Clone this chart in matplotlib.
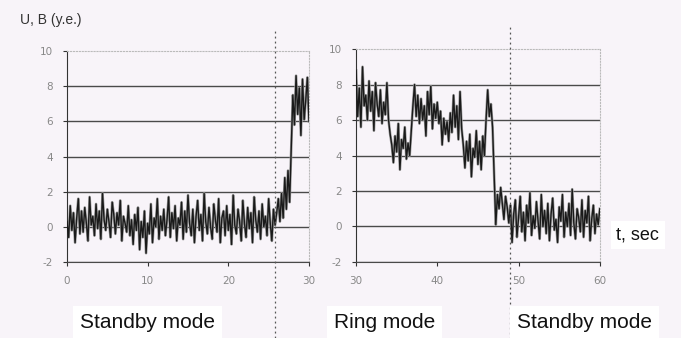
import matplotlib
matplotlib.use("Agg")
import matplotlib.pyplot as plt
import numpy as np

plt.rcParams["axes.unicode_minus"] = False

# signal values sampled every 0.2 s
t_left = np.round(np.arange(0, 30.01, 0.2), 1)
u_left = [
    0.3, -0.6, 1.2, -0.2, 0.8, -0.9, 0.5, 1.6, -0.4, 0.9,
    -0.3, 1.1, 0.2, -0.8, 1.7, 0.1, 0.6, -0.5, 1.3, -0.1,
    0.9, -0.7, 1.9, 0.4, -0.2, 1.0, 0.3, -0.6, 1.4, 0.7,
    -0.4, 0.8, 0.1, 1.5, -0.8, 0.6, 0.2, -0.3, 1.2, -0.5,
    0.4, -1.0, 0.7, -0.2, 1.1, -1.3, 0.3, -0.6, 0.9, -1.5,
    0.2, -0.4, 1.3, -0.9, 0.5, 0.0, 1.6, -0.7, 0.6, -0.2,
    1.0, -0.5, 0.4, 1.7, -0.6, 0.8, -0.1, 1.2, -0.8, 0.5,
    0.1, 1.4, -0.7, 0.9, -0.3, 1.8, 0.2, -0.5, 1.0, -0.9,
    0.6, 1.5, -0.2, 0.7, -0.8, 1.9, 0.3, -0.4, 1.1, 0.0,
    -0.7, 1.3, 0.4, -0.3, 1.6, -0.9, 0.5, 0.9, -0.5, 1.2,
    -0.2, 0.7, -1.0, 1.8, 0.1, -0.4, 1.0, 0.3, -0.8, 1.5,
    0.2, -0.6, 1.1, -0.1, 0.8, -0.9, 1.7, 0.4, -0.3, 0.9,
    -0.7, 1.3, 0.0, 0.6, -0.5, 1.6, 0.2, -0.8, 1.0, 0.1,
    0.8, 1.6, 0.3, 1.9, 0.5, 2.8, 1.0, 3.2, 1.4, 4.5,
    7.5, 5.8, 8.6, 6.4, 7.9, 5.2, 8.4, 6.1, 7.2, 8.5,
    6.0,
]

t_right = np.round(np.arange(30, 60.01, 0.2), 1)
u_right = [
    8.8, 6.2, 7.8, 5.6, 9.0, 6.8, 7.4, 6.0, 8.2, 6.5,
    7.6, 5.4, 8.1, 6.9, 6.2, 7.7, 5.8, 7.0, 6.3, 8.1,
    6.0, 5.2, 4.6, 3.6, 5.1, 4.2, 5.8, 3.2, 4.9, 4.4,
    5.6, 3.8, 4.7, 4.0, 5.4, 6.8, 8.0, 6.2, 7.4, 5.8,
    7.2, 6.0, 6.8, 5.1, 7.6, 6.3, 7.9, 5.5, 6.9, 6.1,
    7.0, 5.8, 6.5, 4.6, 6.1, 5.2, 5.9, 4.8, 6.4, 5.3,
    7.4, 5.6, 6.8, 4.9, 7.6, 5.5, 4.6, 3.3, 4.8, 3.7,
    5.2, 2.8, 4.4, 3.9, 5.4, 3.5, 4.8, 3.2, 5.1, 4.0,
    6.0, 7.7, 6.2, 6.9, 5.6, 2.8, 0.1, 1.8, 1.0, 2.2,
    1.3, 0.4, 1.7, 1.1, 0.2, 1.2, -0.9, 0.7, 1.5, -0.6,
    0.5, 1.7, -0.3, 0.8, -0.8, 1.2, 0.2, 1.9, -0.5, 0.6,
    -0.1, 1.4, 0.3, -0.7, 1.8, 0.0, 0.9, -0.4, 1.3, -0.8,
    0.7, 1.6, -0.2, 0.4, -0.9, 1.1, 0.3, 1.8, -0.6, 0.8,
    0.0, 1.3, -0.5, 2.1, 0.2, -0.7, 1.0, 0.5, -0.3, 1.5,
    -0.6, 0.9, 0.2, 1.7, -0.8, 0.4, 1.2, -0.4, 0.7, 0.1,
    1.0,
]

y_ticks = [-2, 0, 2, 4, 6, 8, 10]
mode_switch = [25.8, 48.9]
mode_labels = ["Standby mode", "Ring mode", "Standby mode"]

bg = "#f8f4f9"
font = ["Liberation Sans", "DejaVu Sans"]

fig = plt.figure(figsize=(6.81, 3.38), dpi=100, facecolor=bg)
ax1 = fig.add_axes([0.0984, 0.2249, 0.3553, 0.624])
ax2 = fig.add_axes([0.5228, 0.2249, 0.358, 0.63])

panels = [(ax1, t_left, u_left, [0, 10, 20, 30], (0, 30), mode_switch[0]),
          (ax2, t_right, u_right, [30, 40, 50, 60], (30, 60), mode_switch[1])]

for ax, t, u, xt, xl, xs in panels:
    ax.set_facecolor(bg)
    ax.set_xlim(*xl)
    ax.set_ylim(-2, 10)
    ax.set_yticks(y_ticks)
    ax.set_xticks(xt)
    for yv in y_ticks[:-1]:
        ax.axhline(yv, color="#4a4a4a", lw=1.0, zorder=1)
    ax.plot(t, u, color="#9a9a9a", lw=1.9, zorder=2)
    ax.plot(t, u, color="#1a1a1a", lw=1.0, zorder=3)
    for s in ["top", "right"]:
        ax.spines[s].set_color("#bbbbbb")
        ax.spines[s].set_linestyle(":")
        ax.spines[s].set_linewidth(0.8)
    ax.spines["left"].set_color("#333333")
    ax.spines["bottom"].set_color("#4a4a4a")
    ax.tick_params(colors="#333333", labelcolor="#888888", labelsize=7.5,
                   length=3, width=0.8)
    ax.tick_params(axis="x", pad=7)
    ax.tick_params(axis="y", pad=7)
    ax.axvline(xs, ymin=-0.36, ymax=1.11, clip_on=False, color="#555555",
               lw=0.9, ls=(0, (1.5, 2.5)), zorder=4)

fig.text(0.03, 0.94, "U, B (y.e.)", family=font, fontsize=10,
         color="#333333", va="center", ha="left")
fig.text(0.905, 0.305, "t, sec", family=font, fontsize=13, color="#111111",
         va="center", ha="left",
         bbox=dict(facecolor="white", edgecolor="none", pad=4))

label_x = [0.217, 0.565, 0.858]
for lx, lab in zip(label_x, mode_labels):
    fig.text(lx, 0.047, lab, family=font, fontsize=15, color="#111111",
             va="center", ha="center",
             bbox=dict(facecolor="white", edgecolor="none", pad=5))

fig.savefig("out.png", dpi=100, facecolor=bg)
